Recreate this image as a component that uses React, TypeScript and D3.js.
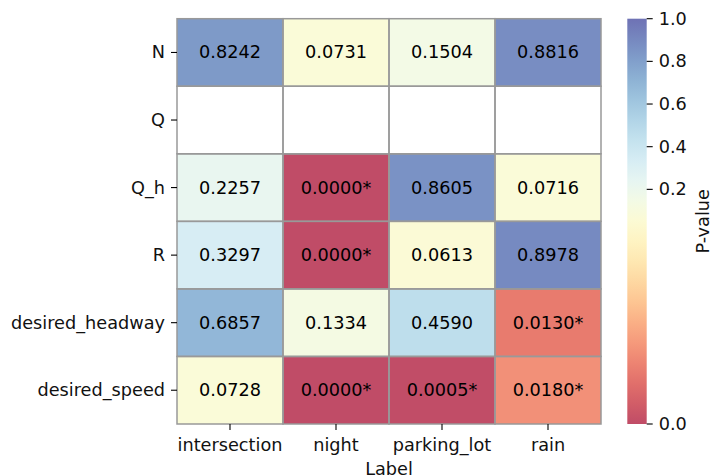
import React from 'react';
import * as d3 from 'd3';

const rows = ['N', 'Q', 'Q_h', 'R', 'desired_headway', 'desired_speed'];
const cols = ['intersection', 'night', 'parking_lot', 'rain'];
const pN = [0.8242, 0.0731, 0.1504, 0.8816];
const pQ = [null, null, null, null];
const pQh = [0.2257, 0.0, 0.8605, 0.0716];
const pR = [0.3297, 0.0, 0.0613, 0.8978];
const pHeadway = [0.6857, 0.1334, 0.459, 0.013];
const pSpeed = [0.0728, 0.0, 0.0005, 0.018];
const pValues: (number | null)[][] = [pN, pQ, pQh, pR, pHeadway, pSpeed];
const cbTicks = [0, 0.2, 0.4, 0.6, 0.8, 1.0];

const App = () => {
  const width = 712;
  const height = 476;
  const margin = { top: 18.7, left: 177, right: 601, bottom: 424 };
  const font = 'DejaVu Sans, sans-serif';
  const fs = 17.7;
  const alpha = 0.7;

  const x = d3.scaleBand().domain(cols).range([margin.left, margin.right]);
  const y = d3.scaleBand().domain(rows).range([margin.top, margin.bottom]);

  // two-slope norm centred on 0.05
  const norm = d3.scaleLinear().domain([0, 0.05, 1]).range([0, 0.5, 1]).clamp(true);
  const color = (v: number) => d3.interpolateRdYlBu(norm(v));

  const cb = { x0: 627.3, x1: 646.7 };
  const cbY = d3.scaleLinear().domain([0, 0.05, 1]).range([margin.bottom, (margin.top + margin.bottom) / 2, margin.top]);
  const stops = d3.range(0, 1.0001, 0.05);

  return (
    <svg width={width} height={height} style={{ position: 'absolute', left: 0, top: 0 }} fontFamily={font}>
      <defs>
        <linearGradient id='cbGrad' x1='0' y1='1' x2='0' y2='0'>
          {stops.map((t, i) => (
            <stop key={i} offset={t} stopColor={d3.interpolateRdYlBu(t)} />
          ))}
        </linearGradient>
      </defs>
      {pValues.map((row, ri) =>
        row.map((v, ci) => (
          <rect
            key={`cell-${ri}-${ci}`}
            x={x(cols[ci])}
            y={y(rows[ri])}
            width={x.bandwidth()}
            height={y.bandwidth()}
            fill={v === null ? 'white' : color(v)}
            fillOpacity={v === null ? 1 : alpha}
          />
        ))
      )}
      {pValues.map((row, ri) =>
        row.map((v, ci) => (
          <rect
            key={`border-${ri}-${ci}`}
            x={x(cols[ci])}
            y={y(rows[ri])}
            width={x.bandwidth()}
            height={y.bandwidth()}
            fill='none'
            stroke='#999'
            strokeWidth='1.5'
          />
        ))
      )}
      {pValues.map((row, ri) =>
        row.map((v, ci) =>
          v === null ? null : (
            <text
              key={`label-${ri}-${ci}`}
              x={x(cols[ci])! + x.bandwidth() / 2}
              y={y(rows[ri])! + y.bandwidth() / 2}
              textAnchor='middle'
              dominantBaseline='central'
              fontSize={fs}
              fill='black'
            >
              {v.toFixed(4) + (v < 0.05 ? '*' : '')}
            </text>
          )
        )
      )}
      {rows.map(r => (
        <g key={`ytick-${r}`} transform={`translate(${margin.left}, ${y(r)! + y.bandwidth() / 2})`}>
          <line x1={-6} x2={0} stroke='black' strokeWidth='1.1' />
          <text x={-12} textAnchor='end' dominantBaseline='central' fontSize={fs} fill='#111'>
            {r}
          </text>
        </g>
      ))}
      {cols.map(c => (
        <g key={`xtick-${c}`} transform={`translate(${x(c)! + x.bandwidth() / 2}, ${margin.bottom})`}>
          <line y1={0} y2={6} stroke='black' strokeWidth='1.1' />
          <text y={21} textAnchor='middle' dominantBaseline='central' fontSize={fs} fill='#111'>
            {c}
          </text>
        </g>
      ))}
      <text x={(margin.left + margin.right) / 2} y={469} textAnchor='middle' dominantBaseline='central' fontSize={fs} fill='#111'>
        Label
      </text>
      <rect
        x={cb.x0}
        y={margin.top}
        width={cb.x1 - cb.x0}
        height={margin.bottom - margin.top}
        fill='url(#cbGrad)'
        fillOpacity={alpha}
      />
      {cbTicks.map(t => (
        <g key={`cbtick-${t}`} transform={`translate(${cb.x1}, ${cbY(t)})`}>
          <line x1={0} x2={6} stroke='black' strokeWidth='1.1' />
          <text x={12} dominantBaseline='central' fontSize={fs} fill='#111'>
            {t.toFixed(1)}
          </text>
        </g>
      ))}
      <text
        transform={`translate(703, ${(margin.top + margin.bottom) / 2}) rotate(-90)`}
        textAnchor='middle'
        dominantBaseline='central'
        fontSize={fs}
        fill='#111'
      >
        P-value
      </text>
    </svg>
  );
};

export default App;
